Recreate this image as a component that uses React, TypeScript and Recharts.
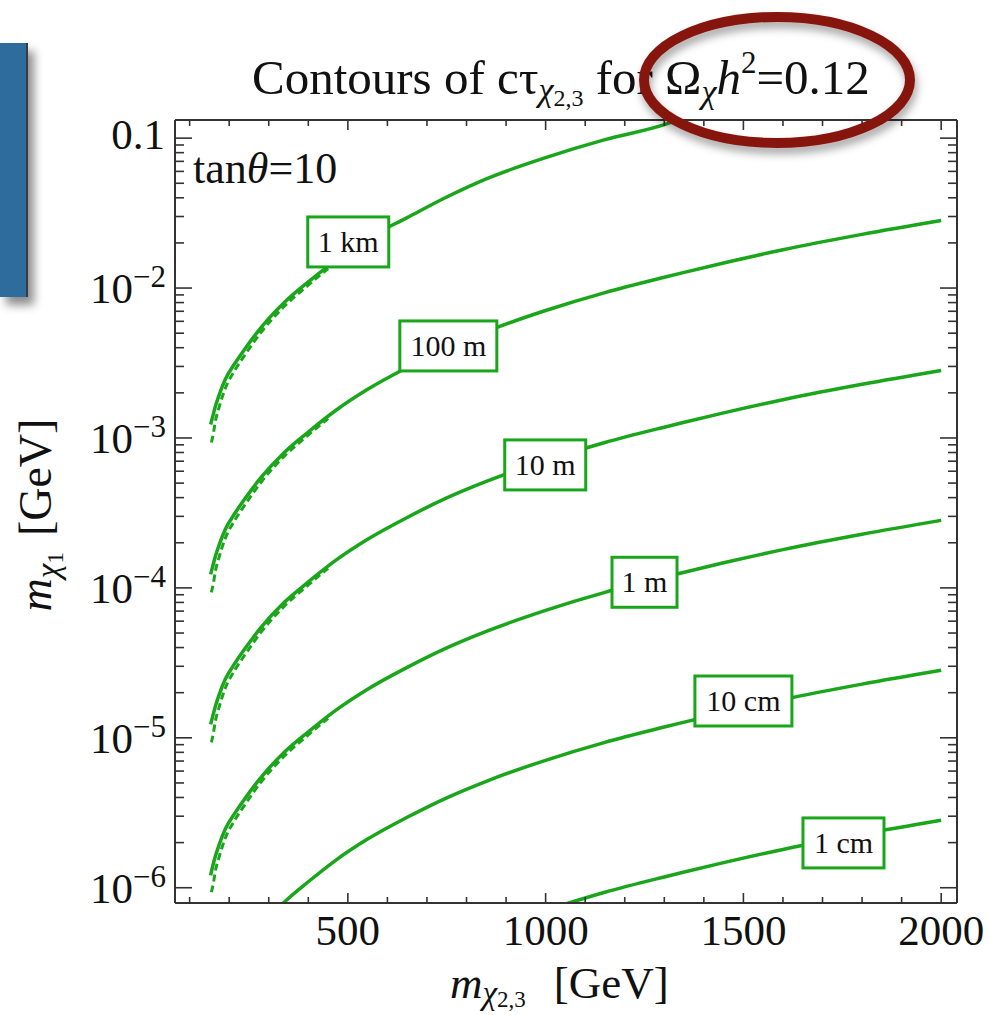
import React from "react";
import { LineChart, Line, XAxis, YAxis, ReferenceDot } from "recharts";

const SERIF = '"Liberation Serif", "Times New Roman", Times, serif';
const GREEN = "#1aa61a";
const INK = "#111";
const FRAME = "#333";

// m_chi23 grid (GeV) for the solid contours
const MASS = [153, 158, 165, 175, 190, 215, 240, 280, 340, 400, 470, 550, 650, 750, 850, 1000, 1150, 1300, 1340, 1450, 1600, 1800, 2000];

// m_chi1 (GeV) along each c*tau contour (null = outside the frame)
const CT_1KM = [1.23e-3, 1.38e-3, 1.62e-3, 1.95e-3, 2.455e-3, 3.16e-3, 3.94e-3, 5.43e-3, 8.04e-3, 0.011, 0.0153, 0.0214, 0.0295, 0.0405, 0.0535, 0.0741, 0.0977, 0.123, 0.134, null, null, null, null];
const CT_100M = [1.23e-4, 1.38e-4, 1.62e-4, 1.95e-4, 2.455e-4, 3.16e-4, 3.94e-4, 5.43e-4, 8.04e-4, 1.096e-3, 1.53e-3, 2.11e-3, 2.95e-3, 3.98e-3, 5.13e-3, 7.08e-3, 9.33e-3, 0.0118, 0.01253, 0.0147, 0.018, 0.0228, 0.0282];
const CT_10M = [1.23e-5, 1.38e-5, 1.62e-5, 1.95e-5, 2.455e-5, 3.16e-5, 3.94e-5, 5.43e-5, 8.04e-5, 1.096e-4, 1.53e-4, 2.11e-4, 2.95e-4, 3.98e-4, 5.13e-4, 7.08e-4, 9.33e-4, 1.18e-3, 1.253e-3, 1.47e-3, 1.8e-3, 2.28e-3, 2.82e-3];
const CT_1M = [1.21e-6, 1.38e-6, 1.62e-6, 1.95e-6, 2.455e-6, 3.16e-6, 3.94e-6, 5.43e-6, 8.04e-6, 1.096e-5, 1.53e-5, 2.11e-5, 2.95e-5, 3.98e-5, 5.13e-5, 7.08e-5, 9.33e-5, 1.18e-4, 1.253e-4, 1.47e-4, 1.8e-4, 2.28e-4, 2.82e-4];
const CT_10CM = [null, null, null, null, null, null, null, 5.43e-7, 8.04e-7, 1.096e-6, 1.53e-6, 2.11e-6, 2.95e-6, 3.98e-6, 5.13e-6, 7.08e-6, 9.33e-6, 1.18e-5, 1.253e-5, 1.47e-5, 1.8e-5, 2.28e-5, 2.82e-5];
const CT_1CM = [null, null, null, null, null, null, null, null, null, null, null, null, null, null, null, 7.08e-7, 9.33e-7, 1.18e-6, 1.253e-6, 1.47e-6, 1.8e-6, 2.28e-6, 2.82e-6];

// dashed approximations near the low-mass end
const DASH_MASS = [155, 160, 165, 175, 190, 215, 240, 280, 340, 400, 450];
const DASH_1KM = [9.33e-4, 1.072e-3, 1.288e-3, 1.622e-3, 2.138e-3, 2.851e-3, 3.589e-3, 5.047e-3, 7.586e-3, 0.01047, 0.01349];
const DASH_100M = [9.33e-5, 1.072e-4, 1.288e-4, 1.622e-4, 2.138e-4, 2.851e-4, 3.589e-4, 5.047e-4, 7.586e-4, 1.047e-3, 1.349e-3];
const DASH_10M = [9.33e-6, 1.072e-5, 1.288e-5, 1.622e-5, 2.138e-5, 2.851e-5, 3.589e-5, 5.047e-5, 7.586e-5, 1.047e-4, 1.349e-4];
const DASH_1M = [9.33e-7, 1.072e-6, 1.288e-6, 1.622e-6, 2.138e-6, 2.851e-6, 3.589e-6, 5.047e-6, 7.586e-6, 1.047e-5, 1.349e-5];

// contour labels, anchored at (m_chi23, m_chi1)
const LABELS = ["1 km", "100 m", "10 m", "1 m", "10 cm", "1 cm"];
const LABEL_MASS = [501, 754, 999, 1250, 1500, 1753];
const LABEL_M1 = [0.0203, 4.11e-3, 6.61e-4, 1.09e-4, 1.76e-5, 1.99e-6];

const X_DOMAIN = [63, 2040];
const Y_DOMAIN = [7.91e-7, 0.1321];
const X_TICKS = Array.from({ length: 20 }, (_, i) => (i + 1) * 100);
const X_LABELED = [500, 1000, 1500, 2000];
const Y_MAJOR = [1e-6, 1e-5, 1e-4, 1e-3, 1e-2, 0.1];
const Y_TICKS = [
  ...Y_MAJOR,
  ...[-6, -5, -4, -3, -2].flatMap((e) => [2, 3, 4, 5, 6, 7, 8, 9].map((k) => k * Math.pow(10, e))),
];

function toRows(xs: number[], ys: (number | null)[]) {
  return xs.map((m, i) => ({ m, v: ys[i] })).filter((r) => r.v != null);
}

const SOLID = [CT_1KM, CT_100M, CT_10M, CT_1M, CT_10CM, CT_1CM];
const DASHED = [DASH_1KM, DASH_100M, DASH_10M, DASH_1M];

function isMajor(v: number) {
  const l = Math.log10(v);
  return Math.abs(l - Math.round(l)) < 1e-6;
}

function BottomTick(props: any) {
  const { x, y, payload } = props;
  const v = payload.value as number;
  const major = v % 500 === 0;
  return (
    <g>
      <line x1={x} x2={x} y1={y} y2={y - (major ? 10 : 6)} stroke={FRAME} strokeWidth={1.6} />
      {X_LABELED.includes(v) && (
        <text x={x} y={y + 42} textAnchor="middle" fontFamily={SERIF} fontSize={43} fill={INK}>
          {v}
        </text>
      )}
    </g>
  );
}

function TopTick(props: any) {
  const { x, y, payload } = props;
  const major = payload.value % 500 === 0;
  return <line x1={x} x2={x} y1={y} y2={y + (major ? 10 : 6)} stroke={FRAME} strokeWidth={1.6} />;
}

function LeftTick(props: any) {
  const { x, y, payload } = props;
  const v = payload.value as number;
  const major = isMajor(v);
  const e = Math.round(Math.log10(v));
  return (
    <g>
      <line x1={x} x2={x + (major ? 17 : 9)} y1={y} y2={y} stroke={FRAME} strokeWidth={1.6} />
      {major &&
        (e === -1 ? (
          <text x={x - 10} y={y + 11} textAnchor="end" fontFamily={SERIF} fontSize={43} fill={INK}>
            0.1
          </text>
        ) : (
          <text x={x - 9} y={y + 15} textAnchor="end" fontFamily={SERIF} fontSize={43} fill={INK}>
            10
            <tspan dy={-16} fontSize={31}>{`\u2212${-e}`}</tspan>
          </text>
        ))}
    </g>
  );
}

function RightTick(props: any) {
  const { x, y, payload } = props;
  const major = isMajor(payload.value);
  return <line x1={x} x2={x - (major ? 17 : 9)} y1={y} y2={y} stroke={FRAME} strokeWidth={1.6} />;
}

function LabelBox(text: string) {
  return (props: any) => {
    const { cx, cy } = props;
    if (cx == null || cy == null) return null;
    const w = 16 * text.length + 17;
    const h = 50;
    return (
      <g>
        <rect x={cx - w / 2} y={cy - h / 2} width={w} height={h} fill="#fff" stroke={GREEN} strokeWidth={3} />
        <text x={cx} y={cy + 10} textAnchor="middle" fontFamily={SERIF} fontSize={30} fill={INK}>
          {text}
        </text>
      </g>
    );
  };
}

export default function App() {
  return (
    <div style={{ position: "absolute", left: 0, top: 0, width: 989, height: 1015, background: "#fff", overflow: "hidden" }}>
      <LineChart width={989} height={1015} margin={{ top: 100, right: 12, bottom: 52, left: 75 }}>
        <XAxis
          xAxisId="b"
          type="number"
          dataKey="m"
          domain={X_DOMAIN}
          allowDataOverflow
          ticks={X_TICKS}
          interval={0}
          height={60}
          tickSize={0}
          tickMargin={0}
          tickLine={false}
          tick={<BottomTick />}
          axisLine={{ stroke: FRAME, strokeWidth: 2 }}
        />
        <XAxis
          xAxisId="t"
          orientation="top"
          type="number"
          dataKey="m"
          domain={X_DOMAIN}
          allowDataOverflow
          ticks={X_TICKS}
          interval={0}
          height={20}
          tickSize={0}
          tickMargin={0}
          tickLine={false}
          tick={<TopTick />}
          axisLine={{ stroke: FRAME, strokeWidth: 2 }}
        />
        <YAxis
          yAxisId="l"
          scale="log"
          type="number"
          domain={Y_DOMAIN}
          allowDataOverflow
          ticks={Y_TICKS}
          interval={0}
          width={100}
          tickSize={0}
          tickMargin={0}
          tickLine={false}
          tick={<LeftTick />}
          axisLine={{ stroke: FRAME, strokeWidth: 2 }}
        />
        <YAxis
          yAxisId="r"
          orientation="right"
          scale="log"
          type="number"
          domain={Y_DOMAIN}
          allowDataOverflow
          ticks={Y_TICKS}
          interval={0}
          width={20}
          tickSize={0}
          tickMargin={0}
          tickLine={false}
          tick={<RightTick />}
          axisLine={{ stroke: FRAME, strokeWidth: 2 }}
        />
        {SOLID.map((ys, i) => (
          <Line
            key={`s${i}`}
            data={toRows(MASS, ys)}
            dataKey="v"
            xAxisId="b"
            yAxisId="l"
            type="monotone"
            stroke={GREEN}
            strokeWidth={3.5}
            dot={false}
            activeDot={false}
            isAnimationActive={false}
          />
        ))}
        {DASHED.map((ys, i) => (
          <Line
            key={`d${i}`}
            data={toRows(DASH_MASS, ys)}
            dataKey="v"
            xAxisId="b"
            yAxisId="l"
            type="monotone"
            stroke={GREEN}
            strokeWidth={3}
            strokeDasharray="7 4"
            dot={false}
            activeDot={false}
            isAnimationActive={false}
          />
        ))}
        {LABELS.map((t, i) => (
          <ReferenceDot
            key={t}
            xAxisId="b"
            yAxisId="l"
            x={LABEL_MASS[i]}
            y={LABEL_M1[i]}
            r={1}
            shape={LabelBox(t)}
          />
        ))}
      </LineChart>

      <div
        style={{
          position: "absolute",
          left: 0,
          top: 43,
          width: 26,
          height: 254,
          background: "#2e6c9e",
          borderRight: "2px solid #3b3b3b",
          boxShadow: "6px 8px 10px rgba(0,0,0,0.45)",
        }}
      />

      <svg width={989} height={1015} style={{ position: "absolute", left: 0, top: 0, pointerEvents: "none" }}>
        <defs>
          <filter id="sh" x="-20%" y="-20%" width="140%" height="160%">
            <feDropShadow dx="2" dy="6" stdDeviation="4" floodColor="#000" floodOpacity="0.35" />
          </filter>
        </defs>
        <text x={252} y={94} fontFamily={SERIF} fontSize={49} fill={INK}>
          Contours of cτ
          <tspan fontStyle="italic" fontSize={34} dy={7}>χ</tspan>
          <tspan fontSize={24} dy={5}>2,3</tspan>
          <tspan fontSize={49} dy={-12}> for Ω</tspan>
          <tspan fontStyle="italic" fontSize={34} dy={9}>χ</tspan>
          <tspan fontStyle="italic" fontSize={49} dy={-9}>h</tspan>
          <tspan fontSize={31} dy={-21}>2</tspan>
          <tspan fontSize={49} dy={21}>=0.12</tspan>
        </text>
        <text x={193} y={183} fontFamily={SERIF} fontSize={44} fill={INK}>
          tan<tspan fontStyle="italic">θ</tspan>=10
        </text>
        <text x={450} y={998} fontFamily={SERIF} fontSize={45} fill={INK}>
          <tspan fontStyle="italic">m</tspan>
          <tspan fontStyle="italic" fontSize={33} dy={6}>χ</tspan>
          <tspan fontSize={23} dy={3}>2,3</tspan>
          <tspan fontSize={45} dy={-9} dx={28}>[GeV]</tspan>
        </text>
        <g transform="translate(51,515) rotate(-90)">
          <text x={0} y={0} textAnchor="middle" fontFamily={SERIF} fontSize={46} fill={INK}>
            <tspan fontStyle="italic">m</tspan>
            <tspan fontStyle="italic" fontSize={33} dy={8}>χ</tspan>
            <tspan fontSize={23} dy={4}>1</tspan>
            <tspan fontSize={46} dy={-12} dx={16}>[GeV]</tspan>
          </text>
        </g>
        <ellipse cx={777} cy={80} rx={133} ry={63} fill="none" stroke="#86180b" strokeWidth={10} filter="url(#sh)" />
      </svg>
    </div>
  );
}
